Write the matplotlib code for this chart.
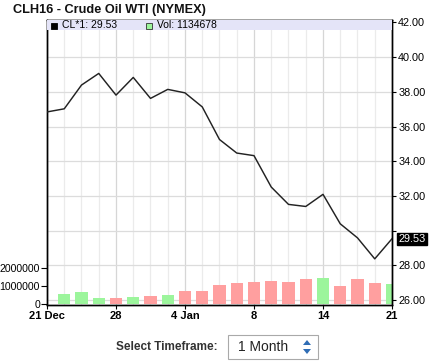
import matplotlib
matplotlib.use("Agg")
import matplotlib.pyplot as plt
import matplotlib.transforms as mtrans
from matplotlib.patches import Rectangle, Polygon

plt.rcParams['font.family'] = ['Liberation Sans', 'DejaVu Sans']

# ---- data ----
dates = ["21 Dec", "22 Dec", "23 Dec", "24 Dec", "28 Dec", "29 Dec", "30 Dec", "31 Dec",
         "4 Jan", "5 Jan", "6 Jan", "7 Jan", "8 Jan", "11 Jan", "12 Jan", "13 Jan",
         "14 Jan", "15 Jan", "19 Jan", "20 Jan", "21 Jan"]
close = [36.84, 37.02, 38.39, 39.06, 37.81, 38.83, 37.62, 38.14, 37.94, 37.13,
         35.25, 34.47, 34.32, 32.51, 31.51, 31.39, 32.09, 30.39, 29.58, 28.37, 29.53]
volume = [None, 560000, 670000, 330000, 330000, 390000, 440000, 500000, 720000, 720000,
          1060000, 1170000, 1220000, 1280000, 1220000, 1390000, 1440000, 1000000,
          1390000, 1170000, 1134678]
tick_idx = [0, 4, 8, 12, 16, 20]
tick_labels = ["21 Dec", "28", "4 Jan", "8", "14", "21"]
price_ticks = [26, 28, 30, 32, 34, 36, 38, 40, 42]
vol_ticks = [0, 1000000, 2000000]
title = "CLH16 - Crude Oil WTI (NYMEX)"
last_label = "29.53"
legend_cl = "CL*1: 29.53"
legend_vol = "Vol: 1134678"

W, H = 435, 363
fig = plt.figure(figsize=(W / 100, H / 100), dpi=100)
fig.patch.set_facecolor('white')

L, R, T, B = 47, 392, 20, 305
ax_v = fig.add_axes([L / W, 1 - B / H, (R - L) / W, (B - T) / H])
ax_p = ax_v.twinx()

n = len(close)
ax_v.set_xlim(0, n - 1)
ax_p.set_ylim(25.71, 42.14)
ax_v.set_ylim(-60000, 15800000)

# grid (behind bars)
for i in range(n):
    c = '#d6d6d6' if i in tick_idx else '#ebebeb'
    ax_v.axvline(i, color=c, lw=0.9, zorder=0)
blend = mtrans.blended_transform_factory(ax_v.transAxes, ax_p.transData)
for p in price_ticks:
    ax_v.plot([0, 1], [p, p], transform=blend, color='#dcdcdc', lw=0.9, zorder=0)

# volume bars
up_c, dn_c = '#9cf59c', '#ff9f9f'
for i in range(1, n):
    col = up_c if close[i] >= close[i - 1] else dn_c
    ax_v.bar(i, volume[i], width=0.7, color=col, zorder=2, linewidth=0)

# price line
ax_p.plot(range(n), close, color='#222222', lw=1.05, zorder=3)

# legend band
PW, PH = (R - L), (B - T)
band = Rectangle((0, 1 - 10 / PH), 1, 10 / PH, transform=ax_p.transAxes,
                 facecolor='#e4e4f8', edgecolor='none', zorder=4)
ax_p.add_patch(band)
ty = 1 - 5 / PH
ax_p.add_patch(Rectangle((4.5 / PW, 1 - 8.5 / PH), 6 / PW, 6 / PH,
                         transform=ax_p.transAxes, facecolor='black', edgecolor='black',
                         lw=0.6, zorder=5))
ax_p.text(15 / PW, ty, legend_cl, transform=ax_p.transAxes, fontsize=7.5,
          va='center', ha='left', zorder=6)
ax_p.add_patch(Rectangle((99.5 / PW, 1 - 8.5 / PH), 6 / PW, 6 / PH,
                         transform=ax_p.transAxes, facecolor=up_c, edgecolor='#333333',
                         lw=0.6, zorder=5))
ax_p.text(110 / PW, ty, legend_vol, transform=ax_p.transAxes, fontsize=7.5,
          va='center', ha='left', zorder=6)

# axes styling
for a in (ax_v, ax_p):
    for s in a.spines.values():
        s.set_color('black')
        s.set_linewidth(1.0)

ax_p.set_yticks(price_ticks)
# the 30.00 label is hidden behind the last-value box in the reference
ax_p.set_yticklabels([("" if abs(p - close[-1]) < 1 else f"{p:.2f}") for p in price_ticks],
                     fontsize=7.8)
ax_p.tick_params(axis='y', direction='out', length=3, width=0.8, pad=1.5)

ax_v.set_yticks(vol_ticks)
ax_v.set_yticklabels([str(v) for v in vol_ticks], fontsize=7.6)
ax_v.tick_params(axis='y', direction='out', length=4, width=0.8, pad=1)

ax_v.set_xticks(tick_idx)
ax_v.set_xticklabels(tick_labels, fontsize=8, fontweight='bold')
ax_v.tick_params(axis='x', direction='out', length=3, width=0.8, pad=1)

# last value label
ax_p.annotate(last_label, xy=(1, close[-1]), xycoords=('axes fraction', 'data'),
              xytext=(4.5, 0), textcoords='offset points', fontsize=7.8, color='white',
              va='center', ha='left', annotation_clip=False, zorder=10,
              bbox=dict(boxstyle='square,pad=0.1', facecolor='black', edgecolor='black'))

# title
fig.text(13 / W, 1 - 10 / H, title, fontsize=9.2, fontweight='bold', va='center',
         ha='left', color='#111111')

# timeframe selector
fig.text(218 / W, 1 - 347 / H, "Select Timeframe:", fontsize=8.5, fontweight='bold',
         color='#333333', va='center', ha='right')
fig.patches.append(Rectangle((228 / W, 1 - 359 / H), 90 / W, 24 / H,
                             transform=fig.transFigure, facecolor='white',
                             edgecolor='#a9a9a9', lw=0.8))
fig.text(238 / W, 1 - 347 / H, "1 Month", fontsize=10, color='#222222',
         va='center', ha='left')
fig.patches.append(Polygon([(303 / W, 1 - 345 / H), (311 / W, 1 - 345 / H),
                            (307 / W, 1 - 340 / H)], closed=True,
                           transform=fig.transFigure, facecolor='#2f6db5', edgecolor='none'))
fig.patches.append(Polygon([(303 / W, 1 - 349 / H), (311 / W, 1 - 349 / H),
                            (307 / W, 1 - 354 / H)], closed=True,
                           transform=fig.transFigure, facecolor='#2f6db5', edgecolor='none'))

fig.savefig("out.png", dpi=100, facecolor='white')
